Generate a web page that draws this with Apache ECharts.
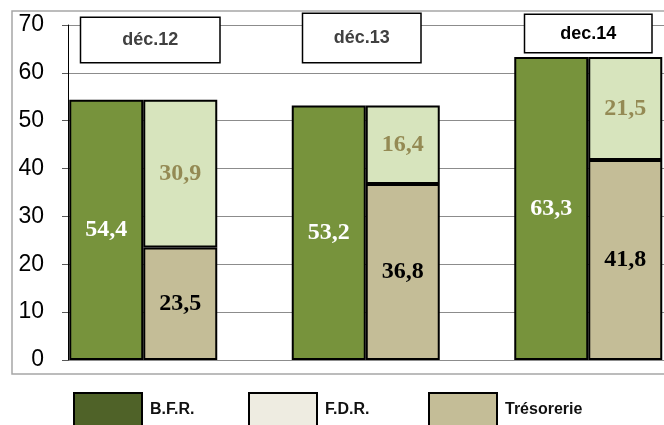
<!DOCTYPE html>
<html>
<head>
<meta charset="utf-8">
<script src="https://cdn.jsdelivr.net/npm/echarts@6/dist/echarts.min.js"></script>
<style>
  html, body { margin: 0; padding: 0; background: #fff; }
  #chart { width: 664px; height: 425px; }
</style>
</head>
<body>
<div id="chart"></div>
<script>
// données du graphique
var periods = ['déc.12', 'déc.13', 'dec.14'];
var bfrValues = [54.4, 53.2, 63.3];
var tresorerieValues = [23.5, 36.8, 41.8];
var fdrValues = [30.9, 16.4, 21.5];
var yTicks = { min: 0, max: 70, interval: 10 };

(function() {
  'use strict';

  var chart = echarts.init(document.getElementById('chart'));

  // format français : virgule décimale
  function frNum(p) {
    return p.value.toFixed(1).replace('.', ',');
  }

  // décalage de chaque cadre d'année par rapport au centre de la catégorie
  var periodPadding = [
    [0, 0, 0, 14],
    [0, 8, 0, 0],
    [0, 0, 10, 0]
  ];

  var categoryData = periods.map(function(p, i) {
    return { value: p, textStyle: { padding: periodPadding[i] } };
  });

  var boxBase = {
    fontFamily: 'Liberation Sans',
    fontWeight: 'bold',
    fontSize: 18,
    align: 'center',
    backgroundColor: '#fff',
    borderColor: '#000',
    borderWidth: 1.5
  };

  var barBorder = { borderColor: '#000', borderWidth: 2 };

  function legendFor(name, color, left) {
    return {
      left: left,
      top: 387,
      icon: 'rect',
      itemWidth: 68,
      itemHeight: 34,
      itemGap: 0,
      selectedMode: false,
      textStyle: {
        fontFamily: 'Liberation Sans',
        fontWeight: 'bold',
        fontSize: 16,
        color: '#111',
        padding: [0, 0, 0, 3]
      },
      data: [{
        name: name,
        itemStyle: { color: color, borderColor: '#000', borderWidth: 2 }
      }]
    };
  }

  function barLabel(color) {
    return {
      show: true,
      position: 'inside',
      formatter: frNum,
      fontFamily: 'Liberation Serif',
      fontWeight: 'bold',
      fontSize: 24,
      color: color
    };
  }

  var option = {
    animation: false,
    backgroundColor: '#fff',
    graphic: [{
      type: 'rect',
      shape: { x: 12, y: 11, width: 662, height: 363 },
      style: { fill: 'none', stroke: '#a6a6a6', lineWidth: 1.5 },
      silent: true
    }],
    legend: [
      legendFor('B.F.R.', '#4f6228', 68),
      legendFor('F.D.R.', '#eeece1', 243),
      legendFor('Trésorerie', '#c4bd97', 423)
    ],
    grid: [
      // axe et quadrillage
      { left: 68, right: 0, top: 25, bottom: 65, outerBoundsMode: 'none' },
      // barres
      { left: 32, width: 667.5, top: 25, bottom: 65, outerBoundsMode: 'none' }
    ],
    xAxis: [
      { gridIndex: 0, type: 'value', show: false },
      {
        gridIndex: 1,
        type: 'category',
        position: 'top',
        data: categoryData,
        axisLine: { show: false },
        axisTick: { show: false },
        axisLabel: {
          margin: -37,
          formatter: function(value, idx) {
            return '{p' + idx + '|' + value + '}';
          },
          rich: {
            p0: Object.assign({}, boxBase, { width: 138, padding: [13, 0, 13, 0], color: '#404040' }),
            p1: Object.assign({}, boxBase, { width: 117, padding: [15, 0, 15, 0], color: '#404040' }),
            p2: Object.assign({}, boxBase, { width: 126, padding: [10, 0, 9, 0], color: '#000' })
          }
        }
      }
    ],
    yAxis: [
      {
        gridIndex: 0,
        type: 'value',
        min: yTicks.min,
        max: yTicks.max,
        interval: yTicks.interval,
        axisLine: { show: true, onZero: false, lineStyle: { color: '#000', width: 1 } },
        axisTick: { show: true, length: 6, lineStyle: { color: '#595959' } },
        axisLabel: {
          margin: 24,
          fontFamily: 'Liberation Sans',
          fontSize: 23,
          color: '#000'
        },
        splitLine: { show: true, lineStyle: { color: '#8c8c8c', width: 1 } }
      },
      {
        gridIndex: 1,
        type: 'value',
        min: yTicks.min,
        max: yTicks.max,
        interval: yTicks.interval,
        show: false,
        splitLine: { show: false }
      }
    ],
    series: [
      {
        name: 'B.F.R.',
        type: 'bar',
        xAxisIndex: 1,
        yAxisIndex: 1,
        stack: 'bfr',
        barWidth: 74,
        barGap: '0%',
        data: bfrValues,
        itemStyle: Object.assign({ color: '#77933c' }, barBorder),
        label: barLabel('#fff')
      },
      {
        name: 'Trésorerie',
        type: 'bar',
        xAxisIndex: 1,
        yAxisIndex: 1,
        stack: 'fdr',
        barWidth: 74,
        barGap: '0%',
        data: tresorerieValues,
        itemStyle: Object.assign({ color: '#c4bd97' }, barBorder),
        label: barLabel('#000')
      },
      {
        name: 'F.D.R.',
        type: 'bar',
        xAxisIndex: 1,
        yAxisIndex: 1,
        stack: 'fdr',
        barWidth: 74,
        barGap: '0%',
        data: fdrValues,
        itemStyle: Object.assign({ color: '#d7e4bd' }, barBorder),
        label: barLabel('#948a54')
      }
    ]
  };

  chart.setOption(option);
})();
</script>
</body>
</html>
